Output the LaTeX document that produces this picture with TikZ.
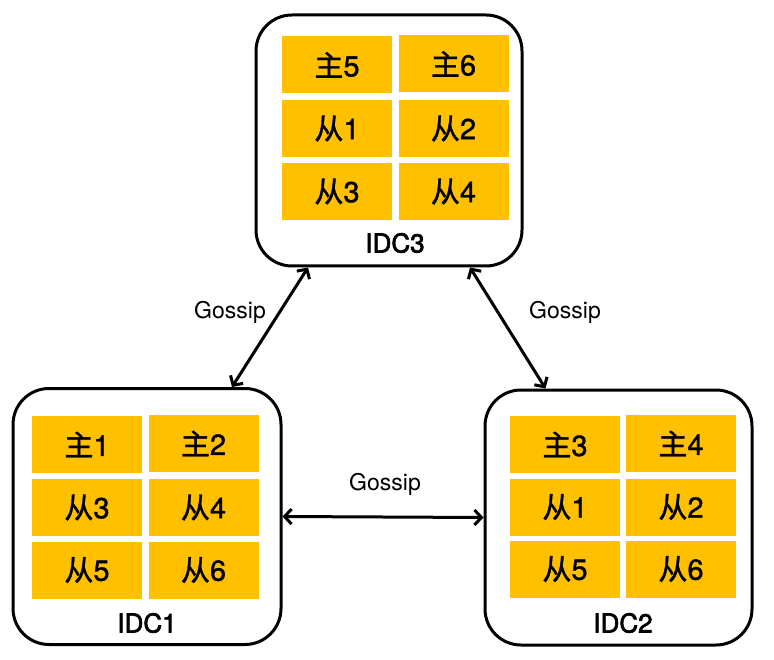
\documentclass[tikz,border=0pt]{standalone}
\usepackage{fontspec}
\setmainfont{TeX Gyre Heros}
\newfontfamily\cjk[FakeBold=1.2]{Noto Sans CJK SC}
\newfontfamily\semib[FakeBold=1.2]{TeX Gyre Heros}
\newfontfamily\medium[FakeBold=2.6]{TeX Gyre Heros}
\usetikzlibrary{arrows.meta,calc}
\definecolor{cellfill}{RGB}{255,192,0}
\begin{document}
\begin{tikzpicture}[x=1pt,y=-1pt,
  idcbox/.style={draw=black,line width=3pt,rounded corners=36pt,fill=white,inner sep=0pt},
  cell/.style={fill=cellfill,minimum width=110pt,minimum height=57pt,inner sep=0pt,
    font=\fontsize{29}{32}\selectfont\semib},
  idclabel/.style={font=\fontsize{26}{29}\selectfont\medium,inner sep=0pt},
  gossip/.style={font=\fontsize{23}{26}\selectfont,inner sep=0pt},
  link/.style={line width=3pt,{Straight Barb[length=7pt,width=15pt]}-{Straight Barb[length=7pt,width=15pt]}}]
\useasboundingbox (0,0) rectangle (774,660);
% boxes
\node[idcbox,minimum width=266pt,minimum height=251pt] (idc3) at (389,140.5) {};
\node[idcbox,minimum width=268pt,minimum height=256pt] (idc1) at (147,516.5) {};
\node[idcbox,minimum width=267pt,minimum height=255pt] (idc2) at (618.5,517.5) {};
% IDC3 cells
\node[cell] (c3a) at (337,65) {{\cjk 主}5};
\node[cell] (c3b) at (453.5,64) {{\cjk 主}6};
\node[cell] (c3c) at (337,128.5) {{\cjk 从}1};
\node[cell] (c3d) at (453.5,128.5) {{\cjk 从}2};
\node[cell] (c3e) at (337,191.5) {{\cjk 从}3};
\node[cell] (c3f) at (453.5,191.5) {{\cjk 从}4};
\node[idclabel] (l3) at (395,243) {IDC3};
% IDC1 cells
\node[cell] (c1a) at (87,444.5) {{\cjk 主}1};
\node[cell] (c1b) at (203.5,443.5) {{\cjk 主}2};
\node[cell] (c1c) at (87,507.5) {{\cjk 从}3};
\node[cell] (c1d) at (203.5,507.5) {{\cjk 从}4};
\node[cell] (c1e) at (87,570) {{\cjk 从}5};
\node[cell] (c1f) at (203.5,570) {{\cjk 从}6};
\node[idclabel] (l1) at (147,623) {IDC1};
% IDC2 cells
\node[cell] (c2a) at (565,444.5) {{\cjk 主}3};
\node[cell] (c2b) at (681,443.5) {{\cjk 主}4};
\node[cell] (c2c) at (565,507) {{\cjk 从}1};
\node[cell] (c2d) at (681,507) {{\cjk 从}2};
\node[cell] (c2e) at (565,569) {{\cjk 从}5};
\node[cell] (c2f) at (681,569) {{\cjk 从}6};
\node[idclabel] (l2) at (623,623) {IDC2};
% links
\draw[link] ($(idc3.south)+(-81,0)$) -- ($(idc1.north)+(85,0)$);
\draw[link] ($(idc3.south)+(81,0)$) -- ($(idc2.north)+(-73,0)$);
\draw[link] (idc1.east) -- (idc2.west);
\node[gossip] (g1) at (230,312) {Gossip};
\node[gossip] (g2) at (565,312) {Gossip};
\node[gossip] (g3) at (385,484) {Gossip};
\end{tikzpicture}
\end{document}
